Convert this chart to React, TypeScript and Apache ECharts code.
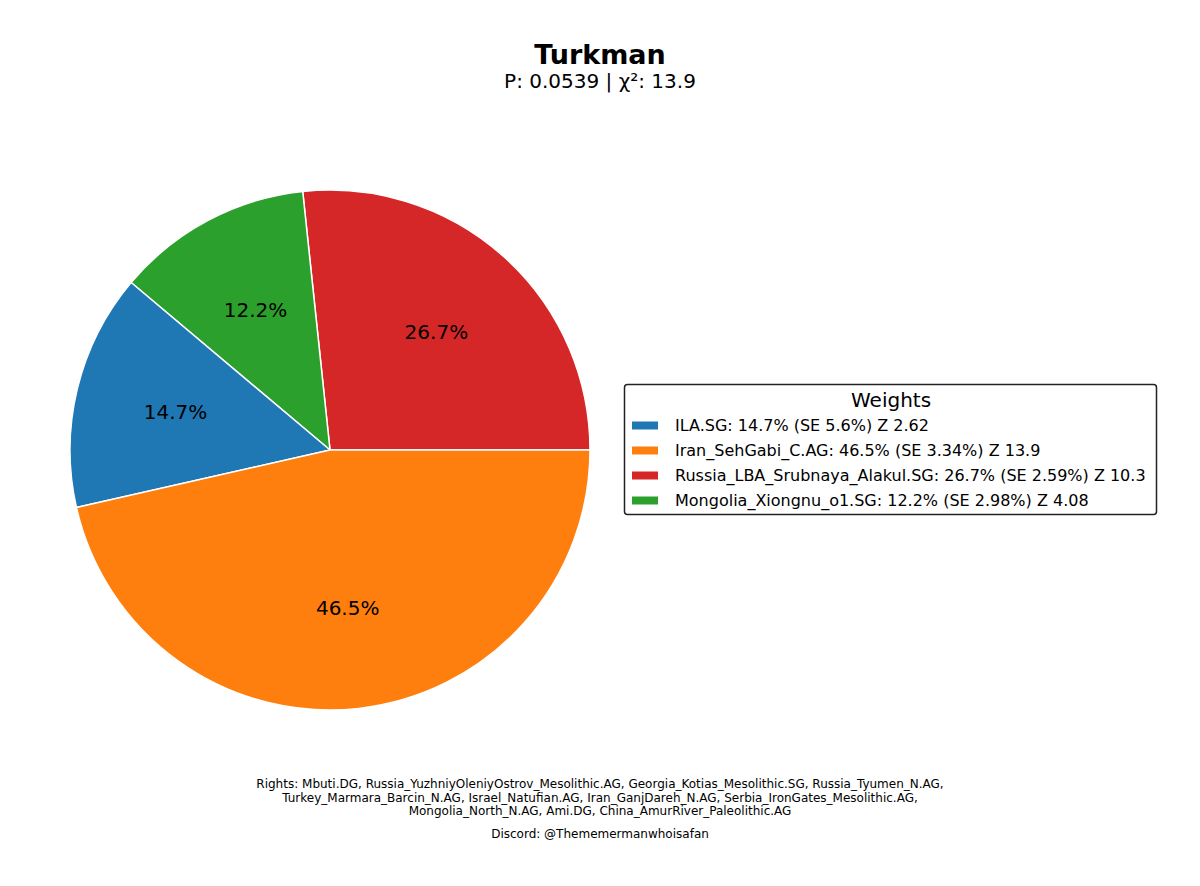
import React, { useEffect, useRef } from "react";
import * as echarts from "echarts";

const sources = ["ILA.SG", "Iran_SehGabi_C.AG", "Russia_LBA_Srubnaya_Alakul.SG", "Mongolia_Xiongnu_o1.SG"];
const weights = [14.7, 46.5, 26.7, 12.2];
const stdErrors = ["5.6", "3.34", "2.59", "2.98"];
const zScores = ["2.62", "13.9", "10.3", "4.08"];
const colors = ["#1f77b4", "#ff7f0e", "#d62728", "#2ca02c"];
// drawing order (counter-clockwise from east), as in the reference
const drawOrder = [2, 3, 0, 1];

const titleText = "Turkman";
const subtitleText = "P: 0.0539 | χ²: 13.9";
const rightsLines = [
  "Rights: Mbuti.DG, Russia_YuzhniyOleniyOstrov_Mesolithic.AG, Georgia_Kotias_Mesolithic.SG, Russia_Tyumen_N.AG,",
  "Turkey_Marmara_Barcin_N.AG, Israel_Natufian.AG, Iran_GanjDareh_N.AG, Serbia_IronGates_Mesolithic.AG,",
  "Mongolia_North_N.AG, Ami.DG, China_AmurRiver_Paleolithic.AG",
];
const discordText = "Discord: @Thememermanwhoisafan";

const FONT = "DejaVu Sans";

export default function App() {
  const ref = useRef<HTMLDivElement>(null);
  useEffect(() => {
    document.body.style.margin = "0";
    const chart = echarts.init(ref.current!, null, { renderer: "svg" });
    const pieData = drawOrder.map((i) => ({
      name: sources[i],
      value: weights[i],
      itemStyle: { color: colors[i] },
    }));
    const legendInfo: Record<string, string> = {};
    sources.forEach((s, i) => {
      legendInfo[s] = `${s}: ${weights[i]}% (SE ${stdErrors[i]}%) Z ${zScores[i]}`;
    });
    const footerStyle = { fontFamily: FONT, fontSize: 12, fontWeight: "normal", color: "#000" };
    chart.setOption({
      animation: false,
      backgroundColor: "#ffffff",
      title: [
        {
          text: titleText,
          left: "center",
          top: 36,
          textStyle: { fontFamily: FONT, fontSize: 27, fontWeight: "bold", color: "#000" },
        },
        {
          text: subtitleText,
          left: "center",
          top: 66,
          textStyle: { fontFamily: FONT, fontSize: 20, fontWeight: "normal", color: "#000" },
        },
        ...rightsLines.map((line, i) => ({
          text: line,
          left: "center",
          top: 778 + i * 13.5,
          padding: 0,
          textStyle: footerStyle,
        })),
        {
          text: discordText,
          left: "center",
          top: 828,
          padding: 0,
          textStyle: footerStyle,
        },
      ],
      legend: {
        orient: "vertical",
        left: 625,
        top: 412,
        data: sources,
        itemWidth: 28,
        itemHeight: 10,
        itemGap: 8,
        icon: "rect",
        selectedMode: false,
        formatter: (name: string) => legendInfo[name],
        textStyle: {
          fontFamily: FONT,
          fontSize: 16,
          color: "#000",
          lineHeight: 17,
          padding: [0, 0, 0, 11],
        },
      },
      graphic: [
        {
          type: "rect",
          left: 622,
          top: 382,
          shape: { width: 532, height: 130, r: 3 },
          style: { fill: "none", stroke: "#222", lineWidth: 1.5 },
          z: 0,
        },
        {
          type: "text",
          left: 851,
          top: 390,
          style: { text: "Weights", fontFamily: FONT, fontSize: 20, fill: "#000" },
        },
      ],
      series: [
        {
          type: "pie",
          center: [330, 450],
          radius: [0, 260],
          startAngle: 0,
          clockwise: false,
          label: { show: false },
          labelLine: { show: false },
          itemStyle: { borderColor: "#ffffff", borderWidth: 1.5 },
          emphasis: { disabled: true },
          data: pieData,
        },
        {
          type: "pie",
          center: [330, 450],
          radius: [52, 260],
          startAngle: 0,
          clockwise: false,
          silent: true,
          legendHoverLink: false,
          itemStyle: { color: "rgba(0,0,0,0)", borderWidth: 0 },
          label: {
            show: true,
            position: "inside",
            formatter: (p: any) => `${p.value.toFixed(1)}%`,
            fontFamily: FONT,
            fontSize: 20,
            color: "#000",
          },
          labelLine: { show: false },
          emphasis: { disabled: true },
          data: pieData.map((d) => ({ name: d.name + " ", value: d.value })),
        },
      ],
    });
    return () => chart.dispose();
  }, []);
  return <div ref={ref} style={{ width: 1200, height: 886 }} />;
}
